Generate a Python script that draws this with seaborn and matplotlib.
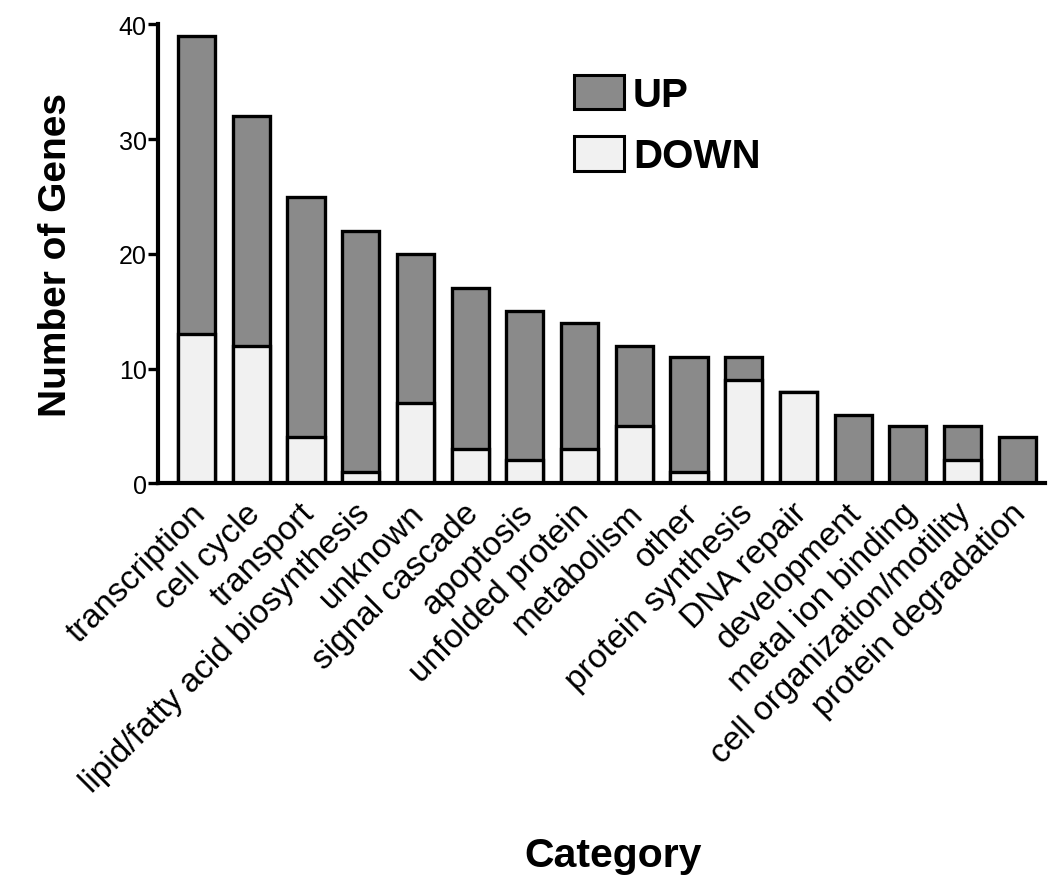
import matplotlib
matplotlib.use("Agg")
import matplotlib.pyplot as plt
from matplotlib.patches import Patch
from matplotlib.transforms import ScaledTranslation
import seaborn as sns
import pandas as pd

categories = [
    "transcription", "cell cycle", "transport", "lipid/fatty acid biosynthesis",
    "unknown", "signal cascade", "apoptosis", "unfolded protein", "metabolism",
    "other", "protein synthesis", "DNA repair", "development",
    "metal ion binding", "cell organization/motility", "protein degradation",
]
up_genes = [26, 20, 21, 21, 13, 14, 13, 11, 7, 10, 2, 0, 6, 5, 3, 4]
down_genes = [13, 12, 4, 1, 7, 3, 2, 3, 5, 1, 9, 8, 0, 0, 2, 0]
y_ticks = [0, 10, 20, 30, 40]

df = pd.DataFrame({"category": categories, "up": up_genes, "down": down_genes})
df["total"] = df["up"] + df["down"]

sns.set_style("white")
plt.rcParams["font.family"] = ["Liberation Sans", "DejaVu Sans"]
plt.rcParams.update({
    "text.color": "black",
    "axes.labelcolor": "black",
    "xtick.color": "black",
    "ytick.color": "black",
})

up_color = "#8a8a8a"
down_color = "#f1f1f1"

fig = plt.figure(figsize=(10.52, 8.79), dpi=100)
ax = fig.add_axes([0.150, 0.449, 0.843, 0.522])

# stacked look: full-height bar in the UP shade, DOWN part drawn over it
sns.barplot(data=df, x="category", y="total", color=up_color, width=0.68,
            edgecolor="black", linewidth=2.4, saturation=1, ax=ax)
sns.barplot(data=df, x="category", y="down", color=down_color, width=0.68,
            edgecolor="black", linewidth=2.4, saturation=1, ax=ax)

ax.set_ylim(0, 40)
ax.set_xlim(-0.71, len(categories) - 0.5)
ax.set_yticks(y_ticks)
ax.set_yticklabels([str(t) for t in y_ticks], fontsize=18)
ax.tick_params(axis="y", direction="out", length=7, width=2.4, left=True, pad=1)
ax.tick_params(axis="x", length=0, pad=10)
ax.set_xticks(range(len(categories)))
ax.set_xticklabels(categories, rotation=45, ha="right", rotation_mode="anchor",
                   fontsize=24)
shift = ScaledTranslation(-0.07, 0, fig.dpi_scale_trans)
for lbl in ax.get_xticklabels():
    lbl.set_transform(lbl.get_transform() + shift)

for side in ("top", "right"):
    ax.spines[side].set_visible(False)
for side in ("left", "bottom"):
    ax.spines[side].set_linewidth(3)
    ax.spines[side].set_color("black")

ax.set_xlabel("")
ax.set_ylabel("Number of Genes", fontsize=28, fontweight="bold")
ax.yaxis.set_label_coords(-0.094, 0.5)
fig.text(613 / 1052, 1 - 867 / 879, "Category", fontsize=29.5,
         fontweight="bold", ha="center", va="baseline")

handles = [
    Patch(facecolor=up_color, edgecolor="black", linewidth=2.2, label="UP"),
    Patch(facecolor=down_color, edgecolor="black", linewidth=2.2, label="DOWN"),
]
leg = fig.legend(handles=handles, loc="upper left",
                 bbox_to_anchor=(574 / 1052, 1 - 76 / 879),
                 bbox_transform=fig.transFigure, borderpad=0, borderaxespad=0,
                 frameon=False, handlelength=1.24, handleheight=0.94,
                 handletextpad=0.22, labelspacing=0.55,
                 prop={"size": 29, "weight": "bold"})

fig.savefig("out.png", dpi=100, facecolor="white")
